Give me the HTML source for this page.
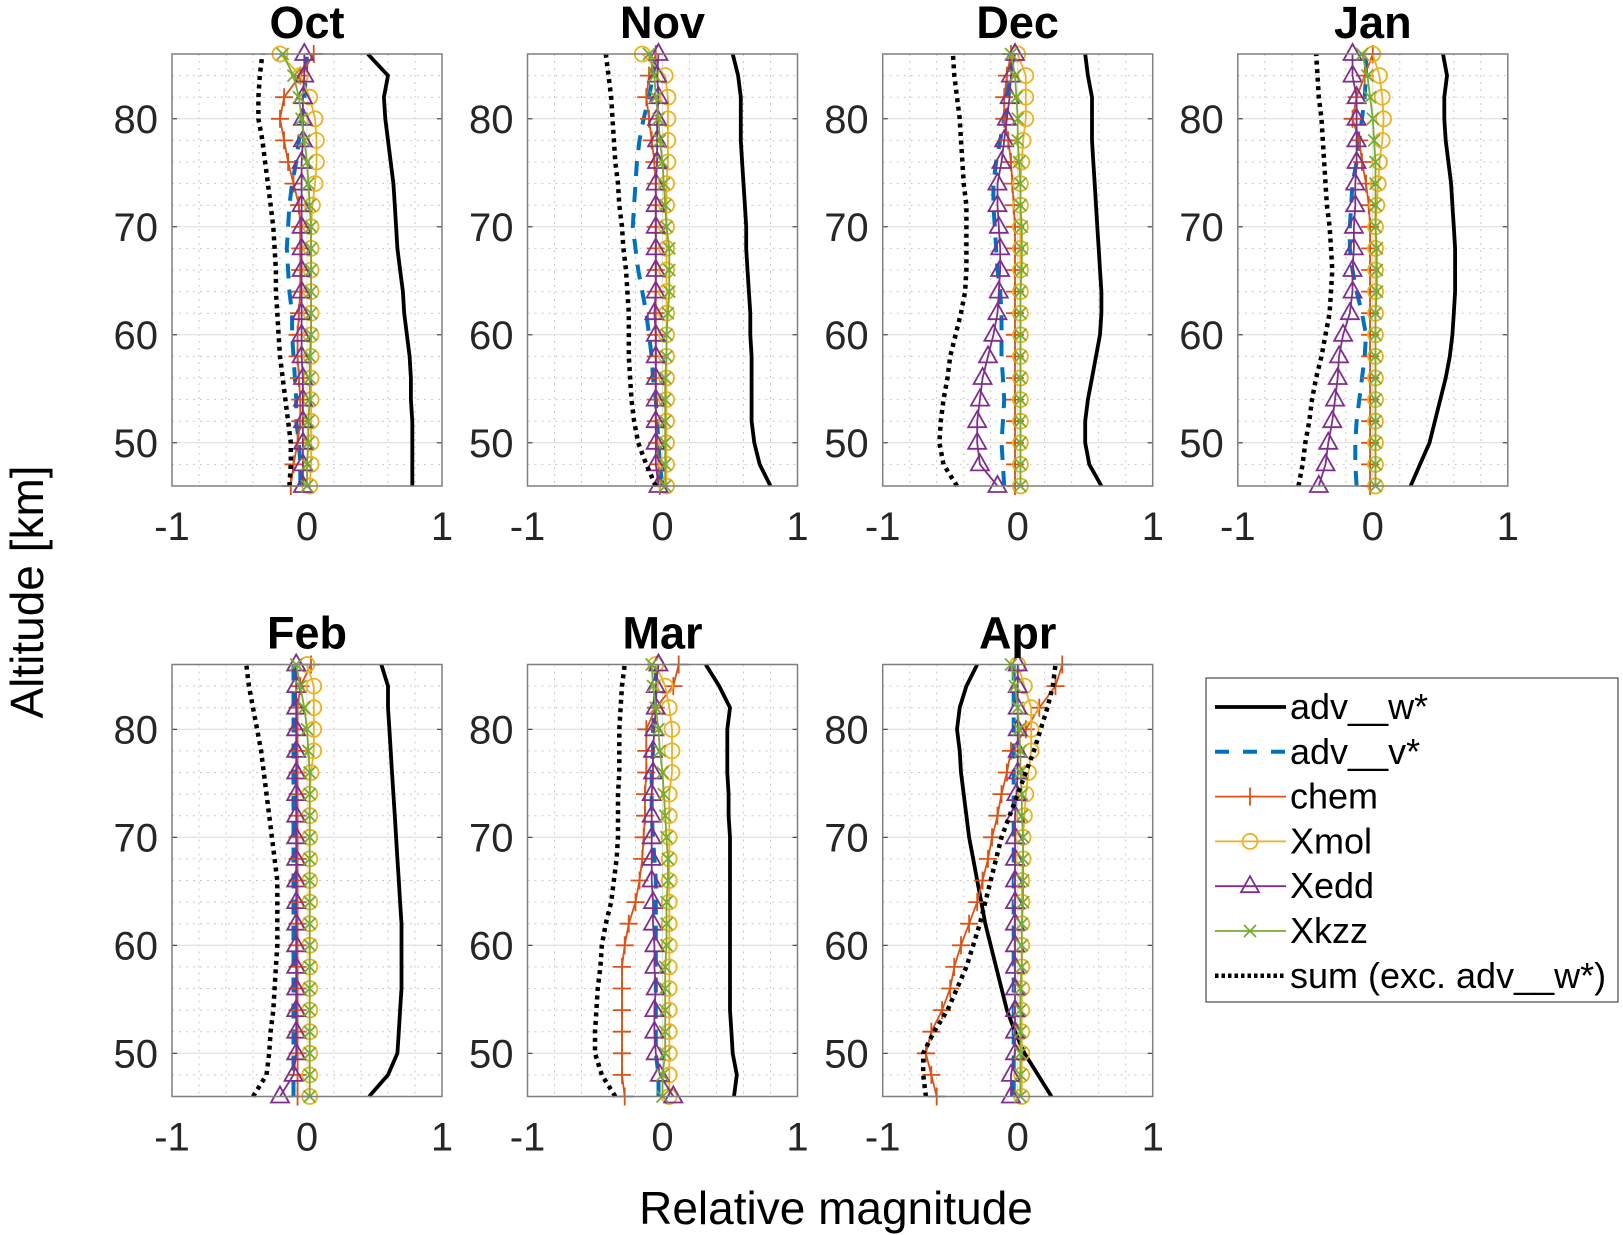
<!DOCTYPE html>
<html><head><meta charset="utf-8"><style>
html,body{margin:0;padding:0;background:#fff;}
svg{display:block;font-family:"Liberation Sans",sans-serif;}
</style></head><body>
<svg id="chart" width="1623" height="1235" viewBox="0 0 1623 1235" xmlns="http://www.w3.org/2000/svg"></svg>
<script>
const months = ["Oct","Nov","Dec","Jan","Feb","Mar","Apr"];
const altitudes = [46,48,50,52,54,56,58,60,62,64,66,68,70,72,74,76,78,80,82,84,86];
const yTicks = [50,60,70,80];
const xTicks = [-1,0,1];
const xTickLabels = ["-1","0","1"];
const seriesNames = ["adv__w*","adv__v*","chem","Xmol","Xedd","Xkzz","sum (exc. adv__w*)"];

const advW = {
Oct:[0.78,0.78,0.78,0.78,0.77,0.77,0.76,0.74,0.72,0.71,0.69,0.67,0.66,0.65,0.64,0.62,0.6,0.58,0.57,0.6,0.45],
Nov:[0.8,0.72,0.68,0.66,0.66,0.66,0.66,0.65,0.65,0.64,0.63,0.62,0.62,0.61,0.6,0.59,0.58,0.58,0.58,0.56,0.52],
Dec:[0.62,0.53,0.5,0.5,0.52,0.55,0.58,0.61,0.62,0.62,0.61,0.6,0.59,0.58,0.57,0.56,0.55,0.55,0.55,0.52,0.5],
Jan:[0.28,0.35,0.42,0.46,0.5,0.54,0.57,0.59,0.6,0.61,0.61,0.61,0.6,0.59,0.58,0.56,0.54,0.53,0.53,0.55,0.52],
Feb:[0.46,0.6,0.67,0.68,0.69,0.7,0.7,0.7,0.7,0.69,0.68,0.67,0.66,0.65,0.64,0.63,0.62,0.61,0.6,0.6,0.55],
Mar:[0.53,0.55,0.52,0.51,0.5,0.5,0.5,0.5,0.5,0.5,0.5,0.5,0.5,0.49,0.49,0.48,0.48,0.48,0.5,0.42,0.32],
Apr:[0.25,0.15,0.05,-0.02,-0.08,-0.12,-0.16,-0.2,-0.24,-0.27,-0.3,-0.33,-0.36,-0.38,-0.4,-0.42,-0.43,-0.45,-0.43,-0.38,-0.3]};
const advV = {
Oct:[-0.05,-0.05,-0.06,-0.08,-0.08,-0.09,-0.1,-0.11,-0.11,-0.13,-0.14,-0.15,-0.14,-0.13,-0.11,-0.08,-0.06,-0.04,-0.02,-0.01,0.0],
Nov:[0,-0.02,-0.03,-0.04,-0.05,-0.07,-0.08,-0.1,-0.12,-0.15,-0.18,-0.2,-0.22,-0.21,-0.2,-0.19,-0.17,-0.14,-0.1,-0.07,-0.05],
Dec:[-0.1,-0.11,-0.12,-0.11,-0.1,-0.11,-0.12,-0.12,-0.12,-0.13,-0.15,-0.16,-0.17,-0.18,-0.18,-0.16,-0.13,-0.1,-0.08,-0.06,-0.05],
Jan:[-0.12,-0.13,-0.13,-0.12,-0.1,-0.08,-0.06,-0.05,-0.08,-0.12,-0.15,-0.17,-0.17,-0.16,-0.15,-0.12,-0.1,-0.08,-0.06,-0.05,-0.05],
Feb:[-0.1,-0.1,-0.1,-0.1,-0.1,-0.1,-0.1,-0.1,-0.1,-0.1,-0.1,-0.1,-0.1,-0.1,-0.1,-0.1,-0.1,-0.1,-0.1,-0.1,-0.1],
Mar:[-0.03,-0.03,-0.05,-0.05,-0.05,-0.05,-0.05,-0.05,-0.05,-0.05,-0.05,-0.06,-0.07,-0.08,-0.08,-0.08,-0.07,-0.07,-0.06,-0.05,-0.05],
Apr:[-0.03,-0.03,-0.03,-0.03,-0.03,-0.03,-0.03,-0.03,-0.03,-0.03,-0.03,-0.03,-0.03,-0.03,-0.03,-0.03,-0.03,-0.03,-0.03,-0.03,-0.03]};
const chem = {
Oct:[-0.12,-0.1,-0.07,-0.05,-0.05,-0.06,-0.07,-0.07,-0.06,-0.05,-0.05,-0.05,-0.05,-0.06,-0.1,-0.14,-0.17,-0.2,-0.17,-0.05,0.05],
Nov:[-0.02,-0.03,-0.04,-0.05,-0.05,-0.05,-0.05,-0.05,-0.05,-0.05,-0.05,-0.05,-0.05,-0.05,-0.05,-0.06,-0.08,-0.1,-0.12,-0.1,-0.05],
Dec:[-0.02,-0.02,-0.02,-0.02,-0.02,-0.02,-0.02,-0.02,-0.02,-0.02,-0.02,-0.02,-0.02,-0.03,-0.04,-0.05,-0.07,-0.1,-0.1,-0.08,-0.05],
Jan:[-0.02,-0.02,-0.02,-0.02,-0.02,-0.02,-0.02,-0.02,-0.02,-0.02,-0.02,-0.02,-0.02,-0.03,-0.05,-0.08,-0.1,-0.15,-0.12,-0.06,0.0],
Feb:[-0.07,-0.07,-0.07,-0.07,-0.07,-0.07,-0.07,-0.07,-0.07,-0.07,-0.07,-0.07,-0.07,-0.07,-0.07,-0.07,-0.07,-0.07,-0.07,-0.05,0.03],
Mar:[-0.28,-0.3,-0.3,-0.3,-0.3,-0.3,-0.3,-0.28,-0.25,-0.2,-0.17,-0.15,-0.14,-0.13,-0.13,-0.12,-0.12,-0.12,-0.05,0.08,0.12],
Apr:[-0.6,-0.64,-0.68,-0.64,-0.56,-0.5,-0.47,-0.42,-0.36,-0.3,-0.26,-0.22,-0.19,-0.15,-0.12,-0.08,-0.05,0.06,0.16,0.28,0.33]};
const xmol = {
Oct:[0.02,0.03,0.03,0.03,0.03,0.03,0.03,0.03,0.03,0.03,0.03,0.03,0.03,0.04,0.06,0.07,0.07,0.06,0.02,-0.05,-0.2],
Nov:[0.03,0.03,0.03,0.03,0.03,0.03,0.03,0.03,0.03,0.03,0.03,0.03,0.03,0.03,0.03,0.04,0.04,0.04,0.04,0.02,-0.15],
Dec:[0.02,0.02,0.02,0.02,0.02,0.02,0.02,0.02,0.02,0.02,0.02,0.02,0.02,0.02,0.02,0.03,0.04,0.06,0.06,0.06,0.0],
Jan:[0.02,0.02,0.02,0.02,0.02,0.02,0.02,0.02,0.02,0.02,0.02,0.02,0.02,0.03,0.04,0.05,0.07,0.08,0.07,0.05,0.0],
Feb:[0.02,0.02,0.02,0.02,0.02,0.02,0.02,0.02,0.02,0.02,0.02,0.02,0.02,0.02,0.02,0.03,0.05,0.05,0.05,0.05,0.0],
Mar:[0.05,0.05,0.05,0.05,0.05,0.05,0.05,0.05,0.05,0.05,0.05,0.05,0.05,0.05,0.05,0.07,0.07,0.07,0.05,0.02,-0.05],
Apr:[0.03,0.03,0.03,0.03,0.03,0.03,0.03,0.03,0.03,0.03,0.03,0.04,0.04,0.05,0.06,0.08,0.1,0.1,0.1,0.05,0.0]};
const xedd = {
Oct:[-0.03,-0.03,-0.03,-0.03,-0.03,-0.03,-0.04,-0.04,-0.04,-0.04,-0.04,-0.04,-0.04,-0.04,-0.04,-0.04,-0.03,-0.03,-0.03,-0.02,-0.02],
Nov:[-0.03,-0.05,-0.05,-0.05,-0.05,-0.05,-0.05,-0.05,-0.06,-0.05,-0.05,-0.05,-0.05,-0.05,-0.05,-0.04,-0.04,-0.04,-0.03,-0.04,-0.03],
Dec:[-0.15,-0.28,-0.3,-0.3,-0.28,-0.26,-0.22,-0.18,-0.15,-0.14,-0.13,-0.13,-0.14,-0.15,-0.15,-0.12,-0.1,-0.08,-0.06,-0.05,-0.02],
Jan:[-0.4,-0.35,-0.33,-0.3,-0.28,-0.26,-0.25,-0.22,-0.17,-0.15,-0.15,-0.14,-0.14,-0.13,-0.13,-0.12,-0.12,-0.12,-0.12,-0.15,-0.15],
Feb:[-0.2,-0.1,-0.08,-0.08,-0.08,-0.08,-0.08,-0.08,-0.08,-0.08,-0.08,-0.08,-0.08,-0.08,-0.08,-0.08,-0.08,-0.08,-0.08,-0.08,-0.08],
Mar:[0.08,-0.02,-0.05,-0.06,-0.06,-0.05,-0.06,-0.06,-0.07,-0.07,-0.08,-0.08,-0.08,-0.08,-0.08,-0.07,-0.07,-0.06,-0.05,-0.05,-0.03],
Apr:[-0.05,-0.05,-0.02,-0.02,-0.02,-0.02,-0.02,-0.02,-0.02,-0.02,-0.02,-0.02,-0.02,-0.02,-0.01,0.0,0.0,0.0,0.0,0.0,0.0]};
const xkzz = {
Oct:[0.0,0.0,0.01,0.01,0.02,0.02,0.02,0.03,0.03,0.03,0.03,0.03,0.03,0.02,0.01,0.0,-0.02,-0.04,-0.06,-0.1,-0.18],
Nov:[0.02,0.02,0.02,0.02,0.02,0.02,0.03,0.03,0.04,0.05,0.05,0.05,0.03,0.02,0.01,0.0,-0.02,-0.03,-0.05,-0.06,-0.1],
Dec:[0.02,0.02,0.02,0.02,0.02,0.02,0.02,0.02,0.02,0.02,0.03,0.03,0.03,0.02,0.02,0.01,0.0,0.0,-0.01,-0.02,-0.05],
Jan:[0.02,0.02,0.02,0.02,0.02,0.02,0.02,0.02,0.02,0.03,0.03,0.03,0.02,0.02,0.02,0.02,0.01,0.0,-0.02,-0.04,-0.08],
Feb:[0.02,0.02,0.02,0.02,0.02,0.02,0.02,0.02,0.02,0.02,0.02,0.02,0.02,0.02,0.02,0.02,0.01,0.0,-0.02,-0.05,-0.08],
Mar:[0.0,0.0,0.02,0.02,0.02,0.02,0.02,0.03,0.03,0.03,0.04,0.04,0.03,0.02,0.01,0.0,-0.02,-0.03,-0.05,-0.07,-0.08],
Apr:[0.02,0.02,0.02,0.02,0.02,0.02,0.03,0.03,0.03,0.04,0.04,0.04,0.04,0.03,0.03,0.02,0.02,0.01,0.0,-0.02,-0.05]};
const sumExc = {
Oct:[-0.13,-0.12,-0.12,-0.14,-0.16,-0.18,-0.2,-0.21,-0.22,-0.23,-0.23,-0.24,-0.25,-0.27,-0.29,-0.31,-0.33,-0.36,-0.36,-0.35,-0.33],
Nov:[-0.05,-0.12,-0.18,-0.21,-0.23,-0.24,-0.25,-0.25,-0.25,-0.26,-0.27,-0.29,-0.3,-0.32,-0.33,-0.35,-0.36,-0.37,-0.38,-0.4,-0.42],
Dec:[-0.45,-0.55,-0.58,-0.57,-0.55,-0.52,-0.5,-0.46,-0.42,-0.39,-0.38,-0.38,-0.38,-0.38,-0.4,-0.41,-0.42,-0.43,-0.45,-0.47,-0.48],
Jan:[-0.55,-0.52,-0.5,-0.47,-0.45,-0.42,-0.38,-0.35,-0.32,-0.31,-0.3,-0.31,-0.32,-0.34,-0.35,-0.36,-0.37,-0.38,-0.4,-0.41,-0.42],
Feb:[-0.4,-0.3,-0.28,-0.27,-0.25,-0.24,-0.23,-0.22,-0.22,-0.22,-0.22,-0.24,-0.26,-0.28,-0.3,-0.32,-0.34,-0.37,-0.4,-0.43,-0.45],
Mar:[-0.35,-0.45,-0.5,-0.5,-0.49,-0.48,-0.46,-0.45,-0.42,-0.38,-0.36,-0.34,-0.33,-0.33,-0.33,-0.32,-0.32,-0.32,-0.31,-0.3,-0.28],
Apr:[-0.68,-0.7,-0.7,-0.62,-0.52,-0.45,-0.38,-0.33,-0.28,-0.24,-0.2,-0.16,-0.12,-0.06,0.0,0.06,0.12,0.17,0.22,0.26,0.28]};

const NS="http://www.w3.org/2000/svg";
const svg=document.getElementById('chart');
function mk(tag,attrs,parent){const e=document.createElementNS(NS,tag);for(const k in attrs)e.setAttribute(k,attrs[k]);(parent||svg).appendChild(e);return e;}

const colLeft=[172,527.5,882.7,1237.8], rowTop=[54,664.5], PW=270, PH=432;
const styles=[
 {key:'adv-w',data:advW,color:'#000',w:3.8,dash:null,marker:null},
 {key:'adv-v',data:advV,color:'#0072BD',w:4,dash:'15,11',marker:null},
 {key:'chem',data:chem,color:'#D95319',w:1.8,dash:null,marker:'plus'},
 {key:'xmol',data:xmol,color:'#EDB120',w:1.8,dash:null,marker:'circle'},
 {key:'xedd',data:xedd,color:'#7E2F8E',w:1.8,dash:null,marker:'tri'},
 {key:'xkzz',data:xkzz,color:'#77AC30',w:1.8,dash:null,marker:'x'},
 {key:'sum',data:sumExc,color:'#000',w:4.5,dash:'4,4.5',marker:null}];

function drawMarker(type,x,y,color,g){
  let e;
  if(type==='plus') e=mk('path',{d:`M${x-9},${y}H${x+9}M${x},${y-9}V${y+9}`,stroke:color,'stroke-width':1.8,fill:'none'},g);
  else if(type==='circle') e=mk('circle',{cx:x,cy:y,r:7.5,stroke:color,'stroke-width':1.8,fill:'none'},g);
  else if(type==='tri') e=mk('path',{d:`M${x},${y-10}L${x+9},${y+6}L${x-9},${y+6}Z`,stroke:color,'stroke-width':1.8,fill:'none'},g);
  else if(type==='x') e=mk('path',{d:`M${x-6},${y-6}L${x+6},${y+6}M${x-6},${y+6}L${x+6},${y-6}`,stroke:color,'stroke-width':1.8,fill:'none'},g);
  return e;
}

months.forEach((m,i)=>{
  const L=colLeft[i%4], T=rowTop[Math.floor(i/4)];
  const xs=v=>L+(v+1)/2*PW;
  const ys=a=>T+(86-a)/40*PH;
  const g=mk('g',{});
  
  
  mk('rect',{x:L,y:T,width:PW,height:PH,fill:'#fff'},g);
  for(let a=48;a<86;a+=2){ if(a%10===0) continue; mk('line',{x1:L,x2:L+PW,y1:ys(a),y2:ys(a),stroke:'#c8c8c8','stroke-width':1,'stroke-dasharray':'2,5'},g);}
  for(let k=1;k<10;k++){ const v=-1+k*0.2; mk('line',{x1:xs(v),x2:xs(v),y1:T,y2:T+PH,stroke:'#c8c8c8','stroke-width':1,'stroke-dasharray':'2,5'},g);}
  yTicks.forEach(a=>{mk('line',{x1:L,x2:L+PW,y1:ys(a),y2:ys(a),stroke:'#dcdcdc','stroke-width':1},g);
    mk('line',{x1:L,x2:L+5,y1:ys(a),y2:ys(a),stroke:'#262626','stroke-width':1},g);
    mk('line',{x1:L+PW-5,x2:L+PW,y1:ys(a),y2:ys(a),stroke:'#262626','stroke-width':1},g);
    const t=mk('text',{x:L-14,y:ys(a)+14,'text-anchor':'end','font-size':40,fill:'#262626'},g);t.textContent=a;
    
    
  });
  mk('line',{x1:xs(0),x2:xs(0),y1:T,y2:T+PH,stroke:'#dcdcdc','stroke-width':1},g);
  xTicks.forEach((v,k)=>{
    const t=mk('text',{x:xs(v),y:T+PH+54,'text-anchor':'middle','font-size':40,fill:'#262626'},g);t.textContent=xTickLabels[k];
    
    
  });
  styles.forEach(s=>{
    const vals=s.data[m];
    const pts=vals.map((v,j)=>xs(v).toFixed(1)+','+ys(altitudes[j]).toFixed(1)).join(' ');
    const sg=mk('g',{},g);
    
    
    const a={points:pts,fill:'none',stroke:s.color,'stroke-width':s.w,'stroke-linejoin':'round'};
    if(s.dash) a['stroke-dasharray']=s.dash;
    mk('polyline',a,sg);
    if(s.marker) vals.forEach((v,j)=>drawMarker(s.marker,xs(v),ys(altitudes[j]),s.color,sg));
  });
  mk('rect',{x:L,y:T,width:PW,height:PH,fill:'none',stroke:'#7f7f7f','stroke-width':1.5},g);
  const tt=mk('text',{x:L+PW/2,y:T-16,'text-anchor':'middle','font-size':45,'font-weight':'bold',fill:'#000'},g);
  tt.textContent=m;
  
  
});

const yl=mk('text',{x:0,y:0,transform:'translate(43,592) rotate(-90)','text-anchor':'middle','font-size':46,fill:'#000'});
yl.textContent='Altitude [km]';


const xl=mk('text',{x:836,y:1224,'text-anchor':'middle','font-size':46,fill:'#000'});
xl.textContent='Relative magnitude';



const lg=mk('g',{});


mk('rect',{x:1206,y:678,width:412,height:324,fill:'#fff',stroke:'#262626','stroke-width':1},lg);
styles.forEach((s,k)=>{
  const y=707+k*44.8;
  const eg=mk('g',{},lg);
  
  
  const a={x1:1215,x2:1286,y1:y,y2:y,stroke:s.color,'stroke-width':s.w};
  if(s.dash) a['stroke-dasharray']=s.key==='adv-v'?'14,14':'3.5,3';
  mk('line',a,eg);
  if(s.marker) drawMarker(s.marker,1250,y,s.color,eg);
  const t=mk('text',{x:1290,y:y+12,'font-size':36,fill:'#000'},eg);
  t.textContent=seriesNames[k];
});
</script>
</body></html>
